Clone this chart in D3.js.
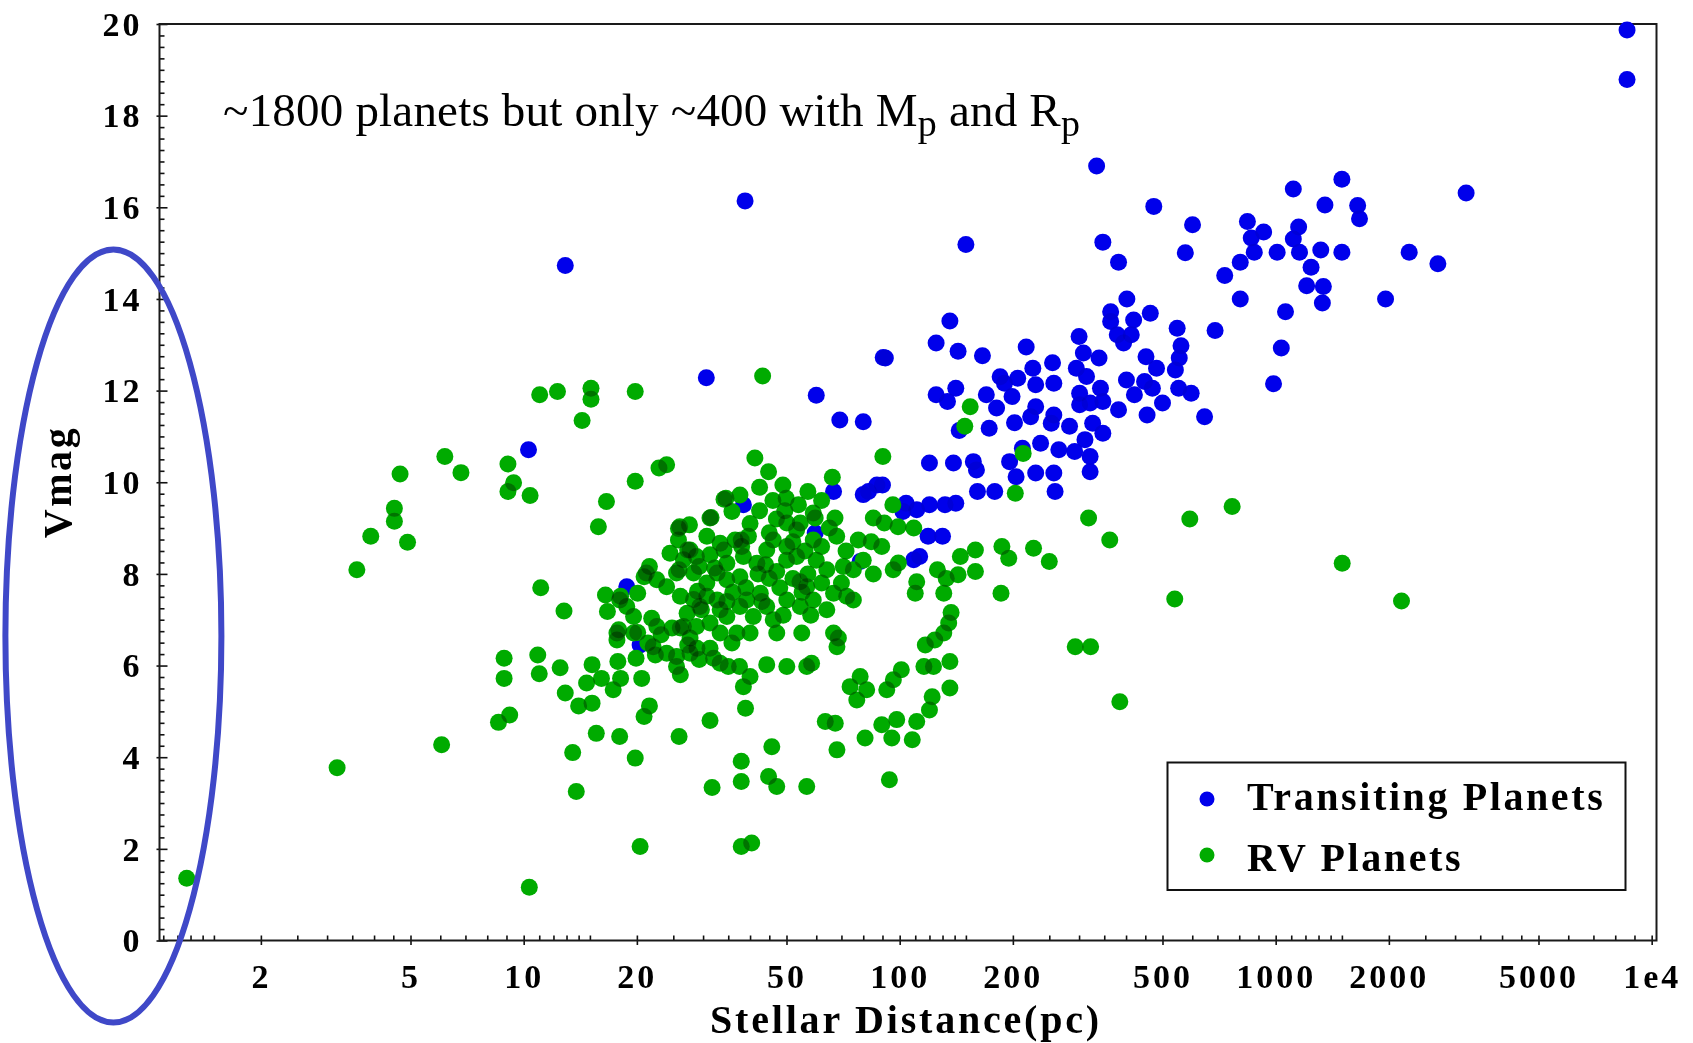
<!DOCTYPE html>
<html>
<head>
<meta charset="utf-8">
<title>Vmag vs Stellar Distance</title>
<script src="https://cdn.jsdelivr.net/npm/d3@7"></script>
<style>
  body { margin: 0; background: #fff; }
  svg { display: block; }
  .tick text, .lbl { font-family: "Liberation Serif", "Times New Roman", serif; font-weight: bold; fill: #000; }
</style>
</head>
<body>
<div id="chart"></div>
<script>
// transiting planets: distance (pc) and V magnitude
var transitDist = [8600, 8600, 3210, 2265, 2700, 1960, 1500, 1652, 1671, 1352,
  1114, 1500, 1318, 1157, 1009, 877, 1114, 861, 1151, 929,
  841, 805, 732, 1242, 1209, 1339, 1331, 805, 1062, 1035,
  987, 690, 601, 474, 334, 347, 382, 575, 150, 547,
  560, 554, 541, 552, 596, 647, 464, 419, 402, 364,
  364, 379, 413, 394, 300, 452, 482, 308, 339, 295,
  314, 401, 448, 470, 301, 342, 421, 500, 301, 347,
  382, 455, 217, 255, 226, 206, 190, 230, 257, 199,
  170, 141, 125, 134, 181, 230, 257, 223, 202, 253,
  283, 326, 347, 311, 173, 144, 125, 143, 166, 136,
  91.6, 237, 212, 265, 292, 321, 321, 196, 204, 230,
  257, 259, 157, 160, 139, 120, 161, 179, 90, 141,
  120, 111, 132, 102, 119, 130, 12.9, 38.8, 30.6, 10.3,
  60, 69.3, 80, 90.4, 80, 66.7, 82.6, 87, 104, 59.6,
  78.5, 109, 113, 38.4, 18.8, 20.4, 185, 321];
var transitVmag = [19.87, 18.79, 16.31, 15.02, 14.77, 14.00, 16.61, 16.04, 15.75, 16.05,
  16.40, 15.02, 15.07, 15.02, 15.02, 15.02, 15.31, 15.33, 15.57, 15.46,
  15.69, 14.80, 14.51, 14.69, 14.29, 14.27, 13.91, 14.00, 13.72, 12.93,
  12.15, 13.31, 15.62, 16.02, 16.90, 15.24, 14.80, 15.01, 15.19, 13.36,
  12.98, 12.71, 12.45, 12.05, 11.94, 11.43, 13.69, 13.54, 14.00, 13.72,
  13.51, 13.22, 13.22, 13.04, 13.18, 12.74, 12.49, 12.82, 12.71, 12.49,
  12.31, 12.23, 12.20, 12.05, 11.94, 12.05, 11.91, 11.73, 11.69, 11.76,
  11.58, 11.47, 12.95, 12.61, 12.49, 12.27, 12.16, 12.13, 12.16, 11.87,
  11.91, 12.05, 11.91, 11.76, 11.62, 11.65, 11.47, 11.43, 11.30, 11.29,
  11.22, 11.29, 11.07, 10.93, 11.18, 11.13, 13.04, 12.86, 12.76, 13.52,
  12.71, 10.85, 10.74, 10.71, 10.67, 10.56, 10.23, 10.45, 10.12, 10.20,
  10.20, 9.80, 10.45, 10.27, 10.42, 10.42, 9.80, 9.80, 9.94, 9.54,
  9.51, 9.40, 9.51, 9.36, 8.82, 8.82, 14.73, 16.14, 12.28, 10.71,
  11.90, 11.36, 11.32, 12.72, 9.73, 9.80, 9.80, 9.94, 9.54, 8.89,
  8.27, 8.31, 8.38, 9.51, 7.72, 6.45, 12.30, 11.73];

// RV planets
var rvDist = [1.27, 3.19, 3.60, 3.92, 4.53, 4.53, 4.91, 4.69, 6.17, 6.81,
  6.05, 8.87, 8.87, 9.18, 8.57, 10.35, 9.08, 9.40, 9.08, 10.4,
  11.03, 12.3, 15.1, 15.1, 19.8, 14.3, 19.8, 22.9, 24.0, 16.6,
  15.8, 11.1, 12.8, 10.9, 11.0, 12.5, 12.9, 14.0, 15.2, 14.7,
  15.2, 16.1, 17.3, 18.1, 17.8, 20.6, 19.9, 21.6, 20.9, 15.6,
  18.0, 25.9, 31.3, 13.5, 19.8, 13.8, 31.7, 37.9, 37.9, 20.4,
  37.9, 40.4, 34.1, 31.5, 35.8, 25.8, 25.9, 24.5, 21.6, 20.9,
  20.1, 16.5, 18.1, 16.7, 29.0, 21.9, 17.9, 17.7, 20.1, 23.2,
  26.1, 21.4, 27.3, 22.4, 25.5, 29.3, 26.1, 33.3, 37.5, 27.3,
  29.3, 32.2, 34.1, 37.9, 29.7, 33.3, 35.8, 38.4, 38.9, 41.2,
  44.8, 42.4, 48.9, 49.9, 53.8, 34.5, 37.6, 42.4, 31.3, 26.0,
  27.6, 49.5, 59.6, 67.3, 66.2, 90.2, 95.9, 85.1, 109, 25.8,
  28.8, 31.3, 36.5, 39.6, 46.1, 53.2, 54.3, 47.1, 58.9, 68,
  77.6, 70.8, 64, 75.3, 85.1, 96.1, 89.6, 99.2, 111, 110,
  126, 133, 143, 131, 145, 159, 159, 187, 195, 227,
  250, 186, 318, 293, 322, 154, 149, 213, 203, 135,
  131, 124, 117, 136, 123, 116, 136, 122, 120, 111,
  98.2, 89.6, 95.3, 108, 80.9, 68.1, 63.4, 67.4, 73.8, 78.5,
  81.7, 92.4, 96.2, 101, 76.9, 66.7, 68.7, 68.1, 56.6, 58.3,
  50.1, 44.3, 40, 35, 45.7, 44.8, 47.1, 56.6, 93.9, 24.8,
  27.7, 28.9, 31.3, 32, 17.7, 19.6, 26.1, 28.3, 30.7, 32.7,
  34.7, 37.6, 34.7, 37.6, 39.2, 42.6, 44.3, 50.1, 54.4, 56.6,
  58.9, 40.8, 46.1, 40, 36.9, 33.3, 34.7, 47.1, 54.9, 64,
  66.7, 72.3, 75.3, 50.1, 53.2, 50.1, 54.4, 58.9, 44.3, 41.7,
  38.4, 34.7, 33.3, 30.7, 27.7, 26.6, 25.5, 28.3, 30.7, 32.7,
  29.4, 27.2, 26.6, 28.8, 31.3, 24, 22.6, 21.2, 18, 18.8,
  19.6, 22.6, 22.1, 24, 25.5, 27.7, 43.2, 591, 766, 362,
  539, 1503, 2161, 385, 137, 99, 91,
  45, 47, 52, 56, 60, 62, 57, 52, 48, 45,
  42, 39, 36, 43, 49, 58, 62, 70, 80, 84,
  72, 65, 62, 57, 46, 40, 38, 44, 50, 55];
var rvVmag = [1.36, 3.77, 8.09, 8.82, 9.43, 9.15, 8.69, 10.18, 10.56, 10.21,
  4.27, 6.16, 5.72, 4.92, 4.76, 1.16, 10.40, 9.99, 9.80, 9.71,
  11.91, 11.98, 12.05, 11.81, 11.98, 11.35, 10.02, 10.31, 10.38, 9.58,
  9.03, 7.70, 7.19, 6.23, 5.82, 5.95, 5.40, 5.12, 5.18, 5.62,
  6.02, 5.72, 5.47, 5.72, 6.09, 5.72, 6.16, 5.12, 4.89, 4.52,
  4.45, 4.45, 4.80, 4.10, 3.98, 3.25, 3.34, 3.47, 3.91, 2.05,
  2.05, 2.13, 9.63, 9.23, 9.36, 8.99, 8.09, 8.45, 8.16, 7.94,
  7.58, 7.54, 7.51, 7.18, 7.62, 7.03, 6.78, 6.56, 6.72, 6.67,
  6.82, 6.49, 6.45, 6.23, 6.20, 6.13, 5.80, 6.05, 5.98, 8.52,
  8.16, 8.13, 8.52, 8.74, 7.22, 7.22, 6.49, 5.54, 5.07, 10.53,
  10.23, 9.89, 9.94, 9.65, 9.51, 9.65, 9.72, 9.38, 9.22, 9.03,
  9.07, 9.38, 9.22, 9.22, 10.11, 10.56, 9.51, 9.22, 9.00, 8.74,
  8.38, 8.42, 8.74, 8.82, 8.74, 8.38, 7.83, 8.05, 8.74, 8.82,
  8.74, 8.16, 8.09, 8.09, 8.00, 8.09, 8.60, 8.24, 7.83, 7.58,
  8.09, 7.90, 7.98, 7.58, 8.38, 8.52, 8.05, 8.60, 8.34, 8.56,
  8.27, 7.58, 9.22, 6.41, 6.41, 11.65, 11.22, 10.63, 9.76, 6.93,
  6.71, 6.56, 6.45, 6.09, 5.98, 5.98, 5.51, 5.32, 5.03, 4.78,
  4.82, 4.71, 4.42, 4.38, 4.42, 4.16, 4.78, 4.74, 5.54, 5.76,
  5.47, 5.47, 5.69, 5.91, 5.25, 6.71, 6.60, 6.41, 5.98, 6.05,
  5.98, 6.02, 5.76, 5.98, 4.23, 3.58, 3.36, 3.36, 3.51, 6.82,
  6.60, 6.38, 6.38, 6.16, 6.71, 6.71, 7.51, 7.44, 7.51, 8.02,
  7.87, 7.94, 7.40, 7.29, 7.43, 7.58, 7.29, 7.43, 7.29, 7.72,
  7.43, 7.07, 7.00, 6.71, 6.71, 6.71, 7.07, 6.71, 6.71, 7.22,
  7.58, 7.51, 7.43, 8.60, 8.96, 9.11, 9.11, 9.33, 8.52, 8.23,
  8.38, 8.23, 8.67, 8.82, 8.52, 8.31, 8.02, 8.02, 7.80, 7.43,
  7.29, 7.14, 6.85, 6.85, 6.93, 7.72, 7.87, 8.02, 7.43, 7.29,
  7.07, 6.85, 6.41, 6.27, 5.98, 6.27, 12.32, 9.20, 9.47, 8.74,
  7.45, 8.23, 7.41, 5.21, 7.16, 9.03, 9.11,
  8.9, 9.2, 8.7, 8.5, 8.3, 8.6, 8.0, 7.9, 7.7, 7.9,
  8.0, 7.7, 7.6, 7.4, 7.1, 7.1, 7.8, 7.8, 8.3, 8.7,
  8.5, 9.0, 9.6, 9.8, 9.6, 9.1, 8.6, 8.2, 8.3, 7.6];

var xMajor = [2, 5, 10, 20, 50, 100, 200, 500, 1000, 2000, 5000, 10000];
var xMajorLabels = ["2", "5", "10", "20", "50", "100", "200", "500", "1000", "2000", "5000", "1e4"];
var xMinorSteps = [1.1, 1.2, 1.3, 1.4, 1.5, 2.5, 3, 3.5, 4, 4.5, 6, 7, 8, 9];
var yMajor = [0, 2, 4, 6, 8, 10, 12, 14, 16, 18, 20];
var seriesNames = ["Transiting Planets", "RV Planets"];
var seriesColors = ["#0000eb", "#00ab00"];

var W = 1693, H = 1043;
var L = 159.5, R = 1656.5, T = 24, B = 940.5;
var PT = 8.5;

var x = d3.scaleLog().domain([1.075, 10300]).range([L, R]);
var y = d3.scaleLinear().domain([0, 20]).range([B, T]);

var svg = d3.select("#chart").append("svg")
  .attr("width", W).attr("height", H);
svg.append("rect").attr("width", W).attr("height", H).attr("fill", "#fff");

// minor ticks
var xMinor = [];
[1, 10, 100, 1000].forEach(function(dec){
  xMinorSteps.forEach(function(s){
    var v = s * dec;
    if (v > x.domain()[0] && v < x.domain()[1]) xMinor.push(v);
  });
});
var yMinor = d3.range(0, 20.001, 0.25).filter(function(v){ return Math.abs(v / 2 - Math.round(v / 2)) > 1e-6; });

svg.append("g")
  .attr("transform", "translate(0," + B + ")")
  .call(d3.axisBottom(x).tickValues(xMinor).tickSize(-5).tickFormat(""))
  .call(function(g){ g.select(".domain").remove(); })
  .selectAll("line").attr("stroke", "#111").attr("stroke-width", 1.6);

var xAxis = svg.append("g")
  .attr("transform", "translate(0," + B + ")")
  .call(d3.axisBottom(x).tickValues(xMajor).tickSize(4.5)
    .tickFormat(function(d, i){ return xMajorLabels[i]; }));
xAxis.select(".domain").remove();
xAxis.selectAll(".tick line").attr("y1", -5).attr("stroke", "#111").attr("stroke-width", 1.6);
xAxis.selectAll(".tick text").attr("y", 47).attr("dy", 0)
  .style("font-size", "34px").style("letter-spacing", "3px");

svg.append("g")
  .attr("transform", "translate(" + L + ",0)")
  .call(d3.axisLeft(y).tickValues(yMinor).tickSize(-5).tickFormat(""))
  .call(function(g){ g.select(".domain").remove(); })
  .selectAll("line").attr("stroke", "#111").attr("stroke-width", 1.6);

var yAxis = svg.append("g")
  .attr("transform", "translate(" + L + ",0)")
  .call(d3.axisLeft(y).tickValues(yMajor).tickSize(3).tickFormat(d3.format("d")));
yAxis.select(".domain").remove();
yAxis.selectAll(".tick line").attr("x1", 8).attr("stroke", "#111").attr("stroke-width", 1.6);
yAxis.selectAll(".tick text").attr("x", -17).attr("dy", "0.33em")
  .style("font-size", "34px").style("letter-spacing", "3px");

// frame
svg.append("rect")
  .attr("x", L).attr("y", T).attr("width", R - L).attr("height", B - T)
  .attr("fill", "none").attr("stroke", "#1a1a1a").attr("stroke-width", 2);

// points
var transit = transitDist.map(function(d, i){ return [d, transitVmag[i]]; });
var rv = rvDist.map(function(d, i){ return [d, rvVmag[i]]; });

[transit, rv].forEach(function(data, k){
  svg.append("g").style("isolation", "isolate")
    .selectAll("circle").data(data).enter().append("circle")
    .attr("cx", function(d){ return x(d[0]); })
    .attr("cy", function(d){ return y(d[1]); })
    .attr("r", PT)
    .attr("fill", seriesColors[k])
    .style("mix-blend-mode", "multiply");
});

// legend
var lg = svg.append("g");
lg.append("rect").attr("x", 1167.5).attr("y", 762.5).attr("width", 458).attr("height", 127.5)
  .attr("fill", "#fff").attr("stroke", "#111").attr("stroke-width", 2);
seriesNames.forEach(function(name, i){
  var cy = 799 + i * 56;
  lg.append("circle").attr("cx", 1207).attr("cy", cy).attr("r", 7.5).attr("fill", seriesColors[i]);
  lg.append("text").attr("class", "lbl").attr("x", 1247).attr("y", cy + 11 + i * 5)
    .style("font-size", "40px").style("letter-spacing", "2.6px").text(name);
});

// axis titles
svg.append("text").attr("class", "lbl")
  .attr("x", 906).attr("y", 1033).attr("text-anchor", "middle")
  .style("font-size", "40px").style("letter-spacing", "2.8px")
  .text("Stellar Distance(pc)");
svg.append("text").attr("class", "lbl")
  .attr("transform", "translate(71,482) rotate(-90)").attr("text-anchor", "middle")
  .style("font-size", "40px").style("letter-spacing", "2.6px")
  .text("Vmag");

// annotation
var note = svg.append("text")
  .attr("x", 223).attr("y", 126)
  .style("font-family", '"Liberation Serif", "Times New Roman", serif')
  .style("font-size", "47px").style("letter-spacing", "0.2px").attr("fill", "#000");
note.append("tspan").text("~1800 planets but only ~400 with M");
note.append("tspan").attr("dy", 10).style("font-size", "38px").text("p");
note.append("tspan").attr("dy", -10).text(" and R");
note.append("tspan").attr("dy", 10).style("font-size", "38px").text("p");

// highlight ellipse
svg.append("ellipse")
  .attr("cx", 113.4).attr("cy", 636).attr("rx", 108).attr("ry", 386.5)
  .attr("fill", "none").attr("stroke", "#3f48c8").attr("stroke-width", 6);
</script>
</body>
</html>
